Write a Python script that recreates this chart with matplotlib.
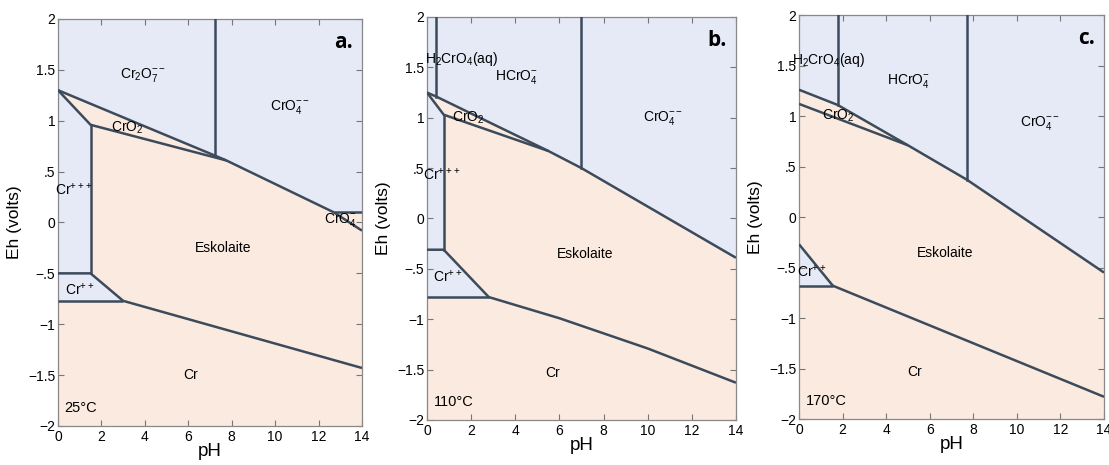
import matplotlib
matplotlib.use("Agg")
import matplotlib.pyplot as plt
from matplotlib.patches import Polygon

plt.rcParams['font.family'] = ['Liberation Sans', 'DejaVu Sans']
plt.rcParams['mathtext.fontset'] = 'custom'
plt.rcParams['mathtext.rm'] = 'Liberation Sans'
plt.rcParams['mathtext.it'] = 'Liberation Sans:italic'
plt.rcParams['mathtext.bf'] = 'Liberation Sans:bold'

# ---------------- data ----------------
ph_ticks = [0, 2, 4, 6, 8, 10, 12, 14]
eh_ticks = [-2, -1.5, -1, -0.5, 0, 0.5, 1, 1.5, 2]
eh_ticklabels = ['\u22122', '\u22121.5', '\u22121', '\u2212.5', '0', '.5', '1', '1.5', '2']

# Panel a (25 C)
a_top_x = [0, 7.23, 7.75, 12.7, 14]
a_top_y = [1.30, 0.657, 0.61, 0.10, -0.08]
a_cro2_x = [0, 1.5, 7.75]
a_cro2_y = [1.30, 0.96, 0.61]
a_vert_x = [7.23, 1.5]
a_vert_y0 = [2.0, 0.96]
a_vert_y1 = [0.657, -0.5]
a_cro4m_x = [12.7, 14]
a_cro4m_y = [0.10, 0.10]
a_cr2_x = [0, 1.5, 3.0]
a_cr2_y = [-0.5, -0.5, -0.77]
a_crflat_x = [0, 3.0]
a_crflat_y = [-0.77, -0.77]
a_cr_x = [3.0, 14]
a_cr_y = [-0.77, -1.43]

# Panel b (110 C)
b_top_x = [0, 0.42, 5.5, 7.0, 14]
b_top_y = [1.25, 1.21, 0.67, 0.50, -0.39]
b_cro2_x = [0, 0.76, 5.5]
b_cro2_y = [1.25, 1.03, 0.67]
b_vert_x = [0.42, 7.0, 0.76]
b_vert_y0 = [2.0, 2.0, 1.03]
b_vert_y1 = [1.21, 0.50, -0.31]
b_cr2_x = [0, 0.76, 2.8]
b_cr2_y = [-0.31, -0.31, -0.78]
b_crflat_x = [0, 2.8]
b_crflat_y = [-0.78, -0.78]
b_cr_x = [2.8, 6, 10, 14]
b_cr_y = [-0.78, -0.99, -1.29, -1.63]

# Panel c (170 C)
c_top_x = [0, 1.77, 5.0, 7.7, 14]
c_top_y = [1.26, 1.11, 0.71, 0.37, -0.55]
c_cro2_x = [0, 5.0]
c_cro2_y = [1.12, 0.71]
c_vert_x = [1.77, 7.7]
c_vert_y0 = [2.0, 2.0]
c_vert_y1 = [1.11, 0.37]
c_cr2_x = [0, 1.55]
c_cr2_y = [-0.27, -0.68]
c_crflat_x = [0, 1.55]
c_crflat_y = [-0.68, -0.68]
c_cr_x = [1.55, 8, 14]
c_cr_y = [-0.68, -1.25, -1.78]

# labels: (text, x, y)
a_labels = [("Cr$_2$O$_7^{--}$", 3.9, 1.45), ("CrO$_4^{--}$", 10.7, 1.13),
            ("CrO$_2$", 3.2, 0.93), ("Cr$^{+++}$", 0.75, 0.32),
            ("CrO$_4^{-}$", 13.0, 0.02), ("Eskolaite", 7.6, -0.25),
            ("Cr$^{++}$", 1.0, -0.66), ("Cr", 6.1, -1.5)]
b_labels = [("H$_2$CrO$_4$(aq)", 1.55, 1.58), ("HCrO$_4^{-}$", 4.05, 1.40),
            ("CrO$_4^{--}$", 10.7, 1.0), ("CrO$_2$", 1.86, 1.0),
            ("Cr$^{+++}$", 0.68, 0.44), ("Eskolaite", 7.16, -0.35),
            ("Cr$^{++}$", 0.95, -0.58), ("Cr", 5.7, -1.53)]
c_labels = [("H$_2$CrO$_4$(aq)", 1.35, 1.55), ("HCrO$_4^{-}$", 5.0, 1.35),
            ("CrO$_4^{--}$", 11.06, 0.93), ("CrO$_2$", 1.8, 1.0),
            ("Eskolaite", 6.7, -0.36), ("Cr$^{++}$", 0.6, -0.54),
            ("Cr", 5.3, -1.53)]
temps = ["25\u00b0C", "110\u00b0C", "170\u00b0C"]
letters = ["a.", "b.", "c."]

BLUE = '#e6eaf6'
PEACH = '#fbeadf'
LINE = '#3c4b5c'

fig = plt.figure(figsize=(11.09, 4.65), dpi=100)
rects = [[0.0523, 0.0839, 0.2741, 0.8753],
         [0.3850, 0.0968, 0.2786, 0.8667],
         [0.7205, 0.0989, 0.2750, 0.8688]]
axes = [fig.add_axes(r) for r in rects]


def setup(ax, temp, letter):
    ax.set_xlim(0, 14)
    ax.set_ylim(-2, 2)
    ax.set_facecolor(BLUE)
    ax.set_xticks(ph_ticks)
    ax.set_yticks(eh_ticks)
    ax.set_yticklabels(eh_ticklabels)
    ax.tick_params(direction='in', top=True, right=True, length=4,
                   width=0.8, color='#777777', labelsize=10, pad=2)
    ax.tick_params(axis='x', pad=3)
    for s in ax.spines.values():
        s.set_color('#888888')
        s.set_linewidth(0.9)
    ax.set_xlabel('pH', fontsize=13.5, labelpad=-1)
    ax.set_ylabel('Eh (volts)', fontsize=12.5, labelpad=4)
    ax.text(0.3, -1.82, temp, fontsize=10.5, ha='left', va='center')
    ax.text(13.6, 1.77, letter, fontsize=15, fontweight='bold',
            ha='right', va='center', family=['Open Sans', 'DejaVu Sans'])


def lines(ax, xs, ys):
    ax.plot(xs, ys, color=LINE, lw=1.8, solid_capstyle='butt', zorder=3)


def verts(ax, vx, vy0, vy1):
    for x, y0, y1 in zip(vx, vy0, vy1):
        ax.plot([x, x], [y0, y1], color=LINE, lw=1.8, zorder=3)


def labels(ax, labs):
    for t, x, y in labs:
        ax.text(x, y, t, fontsize=10, ha='center', va='center', zorder=4)


# ---- panel a ----
ax = axes[0]
setup(ax, temps[0], letters[0])
poly = (list(zip(a_top_x[:-1], a_top_y[:-1])) +
        [(a_cro4m_x[1], a_cro4m_y[1]), (14, -2), (0, -2),
         (a_crflat_x[0], a_crflat_y[0]), (a_cr2_x[2], a_cr2_y[2]),
         (a_cr2_x[1], a_cr2_y[1]), (a_cro2_x[1], a_cro2_y[1])])
ax.add_patch(Polygon(poly, closed=True, facecolor=PEACH, edgecolor='none', zorder=1))
lines(ax, a_top_x, a_top_y)
lines(ax, a_cro2_x, a_cro2_y)
verts(ax, a_vert_x, a_vert_y0, a_vert_y1)
lines(ax, a_cro4m_x, a_cro4m_y)
lines(ax, a_cr2_x, a_cr2_y)
lines(ax, a_crflat_x, a_crflat_y)
lines(ax, a_cr_x, a_cr_y)
labels(ax, a_labels)

# ---- panel b ----
ax = axes[1]
setup(ax, temps[1], letters[1])
poly = (list(zip(b_top_x, b_top_y)) +
        [(14, -2), (0, -2), (b_crflat_x[0], b_crflat_y[0]),
         (b_cr2_x[2], b_cr2_y[2]), (b_cr2_x[1], b_cr2_y[1]),
         (b_cro2_x[1], b_cro2_y[1])])
ax.add_patch(Polygon(poly, closed=True, facecolor=PEACH, edgecolor='none', zorder=1))
lines(ax, b_top_x, b_top_y)
lines(ax, b_cro2_x, b_cro2_y)
verts(ax, b_vert_x, b_vert_y0, b_vert_y1)
lines(ax, b_cr2_x, b_cr2_y)
lines(ax, b_crflat_x, b_crflat_y)
lines(ax, b_cr_x, b_cr_y)
labels(ax, b_labels)

# ---- panel c ----
ax = axes[2]
setup(ax, temps[2], letters[2])
poly = (list(zip(c_top_x, c_top_y)) +
        [(14, -2), (0, -2), (c_crflat_x[0], c_crflat_y[0]),
         (c_cr2_x[1], c_cr2_y[1]), (c_cr2_x[0], c_cr2_y[0])])
ax.add_patch(Polygon(poly, closed=True, facecolor=PEACH, edgecolor='none', zorder=1))
lines(ax, c_top_x, c_top_y)
lines(ax, c_cro2_x, c_cro2_y)
verts(ax, c_vert_x, c_vert_y0, c_vert_y1)
lines(ax, c_cr2_x, c_cr2_y)
lines(ax, c_crflat_x, c_crflat_y)
lines(ax, c_cr_x, c_cr_y)
labels(ax, c_labels)

fig.savefig('out.png', dpi=100)
